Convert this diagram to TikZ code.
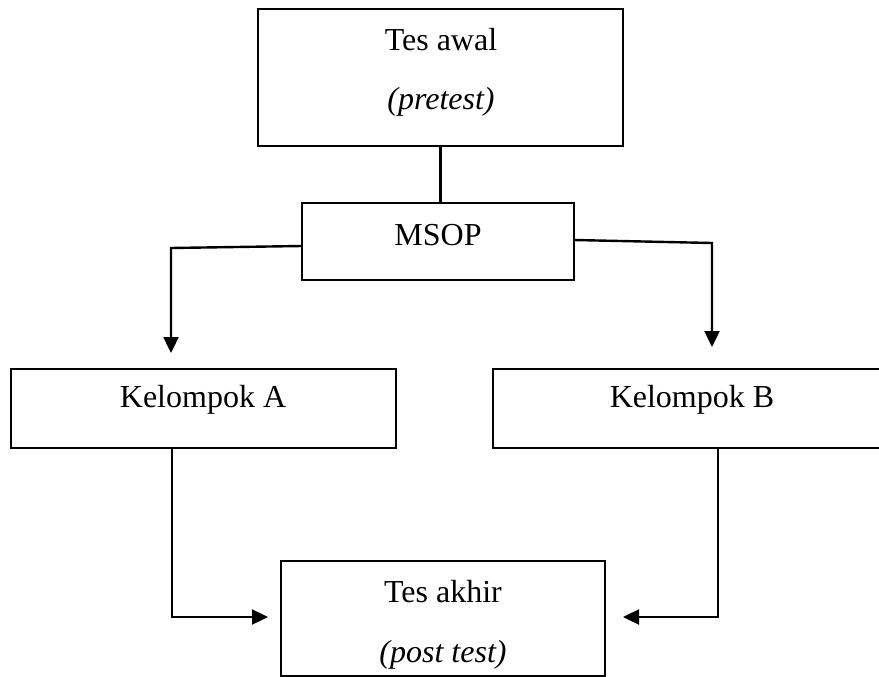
\documentclass[tikz,border=0pt]{standalone}
\usepackage{fontspec}
\setmainfont{Liberation Serif}
\usetikzlibrary{arrows.meta,calc}
\begin{document}
\begin{tikzpicture}[x=1pt,y=1pt,
  box/.style={draw,line width=2pt,inner sep=0pt},
  lbl/.style={inner sep=0pt,font=\fontsize{32}{38}\selectfont},
  conn/.style={line width=2.4pt},
  arr/.style={conn,-{Triangle[length=16pt,width=15pt]}}]
\useasboundingbox (0,0) rectangle (879,-677);
\clip (0,0) rectangle (879,-677);
% boxes
\node[box,minimum width=365pt,minimum height=137pt] (pre) at (440.5,-77.5) {};
\node[box,minimum width=272pt,minimum height=77pt] (msop) at (438,-241.5) {};
\node[box,minimum width=385pt,minimum height=79pt] (ka) at (203.5,-408.5) {};
\node[box,minimum width=398pt,minimum height=79pt] (kb) at (692,-408.5) {};
\node[box,minimum width=324pt,minimum height=115pt] (post) at (443,-618.5) {};
% texts
\node[lbl] (t1) at (441,-40) {Tes awal};
\node[lbl] (t2) at (441,-102) {\itshape (pretest)};
\node[lbl] (t3) at (438,-235) {MSOP};
\node[lbl] (t4) at (203,-400) {Kelompok A};
\node[lbl] (t5) at (692,-400) {Kelompok B};
\node[lbl] (t6) at (443,-592) {Tes akhir};
\node[lbl] (t7) at (443,-655) {\itshape (post test)};
% coordinates
\coordinate (m1) at (302,-246);
\coordinate (b1) at (171,-248);
\coordinate (e1) at (171,-353);
\coordinate (m2) at (574,-240);
\coordinate (b2) at (712,-243);
\coordinate (e2) at (712,-347);
\coordinate (a1) at (172,-448);
\coordinate (c1) at (172,-617);
\coordinate (f1) at (268,-617);
\coordinate (a2) at (718,-448);
\coordinate (c2) at (718,-617);
\coordinate (f2) at (623,-617);
% connectors
\draw[conn] (pre.south) -- (pre.south |- msop.north);
\draw[arr] (m1) -- (b1) -- (e1);
\draw[arr] (m2) -- (b2) -- (e2);
\draw[arr] (a1) -- (c1) -- (f1);
\draw[arr] (a2) -- (c2) -- (f2);
\end{tikzpicture}
\end{document}
